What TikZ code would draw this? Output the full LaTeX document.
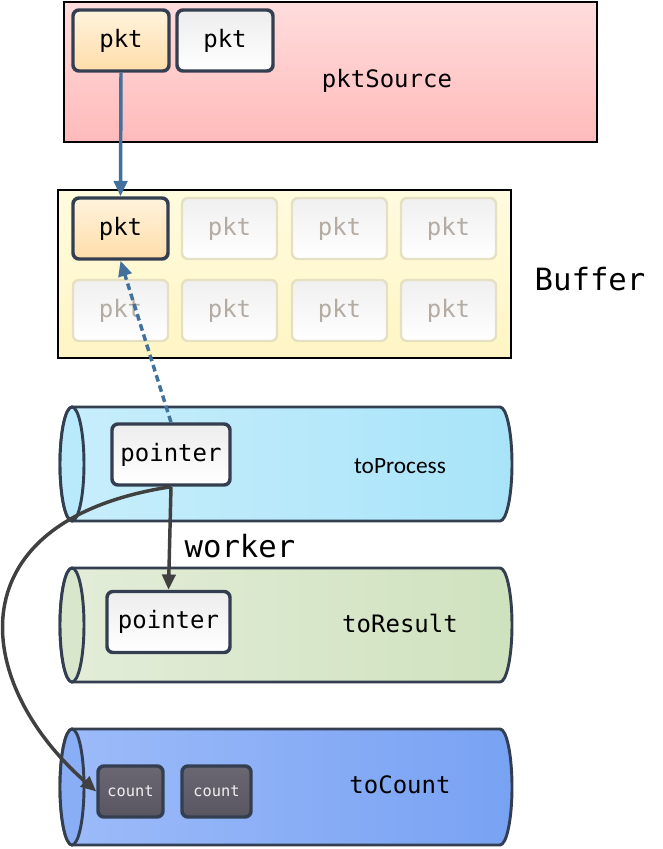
\documentclass[tikz,border=0pt]{standalone}
\usepackage{fontspec}
\setmonofont{DejaVu Sans Mono}
\newfontfamily\calibrifont{Carlito}
\usepackage{tikz}
\usetikzlibrary{shapes.geometric, arrows.meta, positioning}

\definecolor{edgedark}{HTML}{333F50}
\definecolor{flowblue}{HTML}{41719C}
\definecolor{flowgray}{HTML}{404040}
\definecolor{palerim}{HTML}{E6E0C2}
\definecolor{paletext}{HTML}{B4ABA3}
\definecolor{hottop}{HTML}{FFF3DC}
\definecolor{hotbot}{HTML}{FFDDAA}
\definecolor{cnttop}{HTML}{6A6672}
\definecolor{cntbot}{HTML}{595561}

% tube: #1 top, #2 bottom, #3 left colour, #4 right colour, #5 face colour
\newcommand{\tube}[5]{%
  \draw[edgedark, line width=2.2pt, left color=#3, right color=#4]
    (72,#1) -- (500,#1) arc[start angle=90, end angle=-90, x radius=9pt, y radius={(#2-#1)*0.375pt}]
    -- (72,#2) arc[start angle=-90, end angle=-270, x radius=9pt, y radius={(#2-#1)*0.375pt}] -- cycle;
  \draw[edgedark, line width=2.2pt, fill=#5] (72,{(#1+#2)/2}) ellipse[x radius=9pt, y radius={(#2-#1)*0.375pt}];
}

\begin{document}
\begin{tikzpicture}[
  x=0.75pt, y=-0.75pt,
  font=\ttfamily\fontsize{18}{20}\selectfont,
  area/.style={rectangle, draw=black, line width=2pt},
  pkt/.style={rectangle, rounded corners=4.5pt, draw=edgedark, line width=2.6pt,
    minimum width=72pt, minimum height=45.75pt, inner sep=0pt},
  hotpkt/.style={pkt, top color=hottop, bottom color=hotbot},
  plainpkt/.style={pkt, top color=black!7, bottom color=white},
  freepkt/.style={pkt, draw=palerim, line width=1.8pt, top color=black!6, bottom color=white,
    text=paletext, minimum width=71.25pt},
  ptr/.style={plainpkt, minimum width=88.5pt},
  cnt/.style={pkt, minimum width=48.75pt, minimum height=38.25pt, top color=cnttop,
    bottom color=cntbot, text=white!94!black, font=\ttfamily\fontsize{11.5}{13}\selectfont},
  flow/.style={-{Triangle[length=11.5pt, width=10pt]}, line width=2.6pt, draw=flowblue},
  work/.style={-{Triangle[length=11.5pt, width=10pt]}, line width=2.6pt, draw=flowgray},
]
\useasboundingbox (0,0) rectangle (663,849);

% Source
\node[area, minimum width=399.75pt, minimum height=105pt, top color={rgb,255:red,255;green,221;blue,221},
  bottom color={rgb,255:red,255;green,186;blue,186}] (src) at (330.5,72) {};
\node[hotpkt] (src1) at (121,40.5) {pkt};
\node[plainpkt] (src2) at (225,40.5) {pkt};
\node (srclbl) at (387,81) {pktSource};

% Buffer
\node[area, minimum width=339.75pt, minimum height=126pt, top color={rgb,255:red,255;green,251;blue,222},
  bottom color={rgb,255:red,255;green,245;blue,196}] (buf) at (284.5,274) {};
\node[hotpkt, minimum width=71.25pt] (buf1) at (120.5,228.5) {pkt};
\node[freepkt] (buf2) at (229.5,228.5) {pkt};
\node[freepkt] (buf3) at (339.5,228.5) {pkt};
\node[freepkt] (buf4) at (448.5,228.5) {pkt};
\node[freepkt] (buf5) at (120.5,310.5) {pkt};
\node[freepkt] (buf6) at (229.5,310.5) {pkt};
\node[freepkt] (buf7) at (339.5,310.5) {pkt};
\node[freepkt] (buf8) at (448.5,310.5) {pkt};
\node[font=\ttfamily\fontsize{23}{26}\selectfont] (buflbl) at (590,279) {Buffer};

% Queues
\tube{407}{521}{{rgb,255:red,200;green,238;blue,251}}{{rgb,255:red,168;green,228;blue,249}}{{rgb,255:red,184;green,234;blue,251}}
\tube{568}{682}{{rgb,255:red,227;green,237;blue,217}}{{rgb,255:red,207;green,226;blue,190}}{{rgb,255:red,216;green,230;blue,204}}
\tube{729}{845}{{rgb,255:red,157;green,187;blue,249}}{{rgb,255:red,120;green,162;blue,243}}{{rgb,255:red,138;green,174;blue,246}}
\node[font=\calibrifont\fontsize{17.5}{20}\selectfont] (proclbl) at (400,466) {toProcess};
\node (reslbl) at (400,623) {toResult};
\node (cntlbl) at (400,785) {toCount};

\node[ptr] (ptr1) at (171,454.5) {pointer};
\node[ptr, minimum width=92.25pt] (ptr2) at (168.5,622) {pointer};
\node[cnt] (cnt1) at (130.5,791.5) {count};
\node[cnt, minimum width=51.75pt] (cnt2) at (216.5,791.5) {count};

% Connections
\draw[flow] (src1.south) -- (buf1.north);
\draw[flow, dash pattern=on 5pt off 3pt] (ptr1.north) -- (buf1.south);
\draw[work] (ptr1.south) -- (ptr2.north);
\node[font=\ttfamily\fontsize{23}{26}\selectfont] (wlbl) at (240,546) {worker};
\draw[work] (ptr1.south) .. controls (-45,520) and (-30,680) .. (cnt1.west);

\end{tikzpicture}
\end{document}
